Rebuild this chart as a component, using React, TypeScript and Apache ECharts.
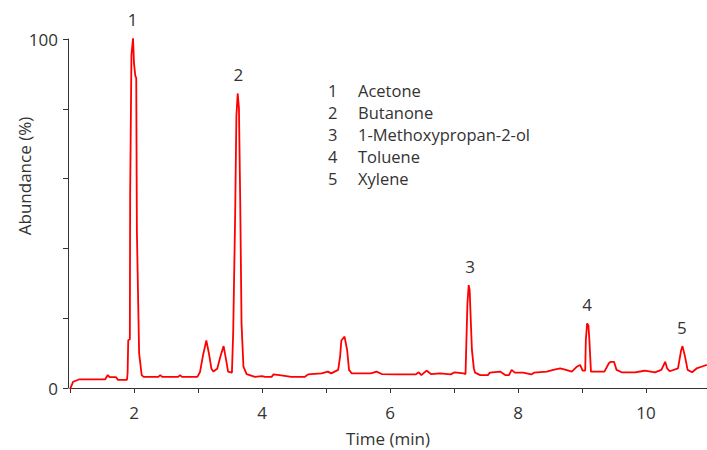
import React, { useEffect, useRef } from "react";
import * as echarts from "echarts";

const times: number[] = [
  1.0, 1.05, 1.15, 1.55, 1.59, 1.62, 1.72, 1.75, 1.89, 1.9, 1.91, 1.935, 1.94, 1.96, 1.985, 2.0, 2.02, 2.035,
  2.045, 2.08, 2.12, 2.15, 2.38, 2.41, 2.44, 2.69, 2.72, 2.75, 2.99, 3.03, 3.08, 3.13, 3.17, 3.21, 3.24, 3.3,
  3.35, 3.4, 3.44, 3.47, 3.53, 3.55, 3.58, 3.6, 3.62, 3.64, 3.66, 3.68, 3.71, 3.76, 3.89, 4.0, 4.05, 4.15,
  4.18, 4.3, 4.46, 4.67, 4.72, 4.93, 5.03, 5.08, 5.19, 5.22, 5.24, 5.29, 5.33, 5.36, 5.4, 5.7, 5.79, 5.87,
  6.08, 6.4, 6.45, 6.49, 6.57, 6.64, 6.78, 6.95, 7.01, 7.15, 7.18, 7.19, 7.21, 7.23, 7.245, 7.26, 7.28, 7.31,
  7.33, 7.41, 7.53, 7.56, 7.72, 7.8, 7.86, 7.9, 7.95, 8.08, 8.21, 8.25, 8.45, 8.55, 8.66, 8.75, 8.84, 8.92,
  8.97, 9.01, 9.05, 9.06, 9.08, 9.1, 9.115, 9.14, 9.35, 9.42, 9.45, 9.5, 9.54, 9.62, 9.83, 9.93, 9.98, 10.14,
  10.24, 10.3, 10.33, 10.37, 10.5, 10.55, 10.57, 10.61, 10.65, 10.72, 10.79, 10.9, 10.95,
];

const abundance: number[] = [
  -0.3, 1.8, 2.5, 2.5, 3.7, 3.1, 3.1, 2.3, 2.3, 4.3, 13.7, 14, 55.8, 95.4, 100.2, 93, 89.5, 88.8,
  45, 10, 3.7, 3.2, 3.2, 3.7, 3.2, 3.2, 3.7, 3.2, 3.2, 4.5, 9.5, 13.6, 10, 5.5, 4.7, 5.5,
  9, 12.0, 8, 4.7, 4.4, 16, 49, 78, 84.4, 80.1, 53, 18.6, 6.1, 4.0, 3.2, 3.4, 3.2, 3.2,
  3.9, 3.6, 3.2, 3.2, 3.9, 4.2, 4.7, 4.2, 5.2, 9, 13.6, 14.7, 10.9, 5.2, 4.2, 4.2, 4.7, 4.0,
  3.9, 3.9, 4.5, 3.7, 5.0, 4.0, 4.2, 3.9, 4.5, 4.2, 4.0, 10.9, 24.3, 29.5, 28, 20.4, 10.9, 5.6,
  4.4, 3.7, 3.7, 4.4, 4.7, 3.7, 3.7, 5.2, 4.4, 4.4, 3.9, 4.4, 4.7, 5.2, 5.6, 5.2, 4.7, 6.1,
  6.6, 5.0, 5.0, 13.8, 18.5, 18, 13.8, 4.7, 4.7, 7.1, 7.5, 7.5, 5.2, 4.5, 4.5, 4.8, 5.0, 4.5,
  5.2, 7.5, 5.6, 4.8, 5.6, 10.9, 12, 9, 5.2, 4.5, 5.6, 6.3, 6.6,
];

const peakNumbers: string[] = ["1", "2", "3", "4", "5"];
const peakTimes: number[] = [1.98, 3.63, 7.25, 9.08, 10.56];
const peakHeights: number[] = [100.2, 84.4, 29.5, 18.5, 12];
const compoundNames: string[] = ["Acetone", "Butanone", "1-Methoxypropan-2-ol", "Toluene", "Xylene"];

const FONT = "'Open Sans', 'DejaVu Sans', sans-serif";
const TEXT = "#333333";

export default function App() {
  const ref = useRef<HTMLDivElement>(null);

  useEffect(() => {
    document.body.style.margin = "0";
    if (!ref.current) return;
    const chart = echarts.init(ref.current, undefined, { renderer: "svg" });

    const lineData = times.map((t, i) => [t, abundance[i]]);
    const peakData = peakTimes.map((t, i) => ({ value: [t, peakHeights[i]], name: peakNumbers[i] }));

    const legendGraphics = compoundNames.map((name, i) => ({
      type: "group",
      left: 328,
      top: 82 + i * 22.1,
      children: [
        {
          type: "text",
          x: 0,
          y: 0,
          style: { text: peakNumbers[i], font: `16.5px ${FONT}`, fill: TEXT },
        },
        {
          type: "text",
          x: 30,
          y: 0,
          style: { text: name, font: `16.5px ${FONT}`, fill: TEXT },
        },
      ],
    }));

    chart.setOption({
      animation: false,
      backgroundColor: "#ffffff",
      grid: { left: 70, width: 640, top: 39, bottom: 62, containLabel: false, outerBoundsMode: "none" },
      xAxis: {
        type: "value",
        min: 1,
        max: 11,
        interval: 1,
        offset: 8,
        axisLine: { show: true, lineStyle: { color: TEXT, width: 1 } },
        axisTick: { show: true, length: 5, lineStyle: { color: TEXT } },
        splitLine: { show: false },
        axisLabel: {
          margin: 8,
          color: TEXT,
          fontSize: 17,
          fontFamily: FONT,
          formatter: (v: number) => (Math.round(v) % 2 === 0 ? String(v) : ""),
        },
      },
      yAxis: {
        type: "value",
        min: 0,
        max: 100,
        interval: 20,
        offset: 2,
        axisLine: { show: true, lineStyle: { color: TEXT, width: 1 } },
        axisTick: { show: true, length: 5, lineStyle: { color: TEXT } },
        splitLine: { show: false },
        axisLabel: {
          margin: 10,
          color: TEXT,
          fontSize: 17,
          fontFamily: FONT,
          formatter: (v: number) => (v === 0 || v === 100 ? String(v) : ""),
        },
      },
      graphic: [
        {
          type: "text",
          x: 24,
          y: 176,
          rotation: Math.PI / 2,
          style: {
            text: "Abundance (%)",
            font: `17px ${FONT}`,
            fill: TEXT,
            textAlign: "center",
            textVerticalAlign: "middle",
          },
        },
        {
          type: "text",
          x: 388,
          y: 438,
          style: {
            text: "Time (min)",
            font: `17px ${FONT}`,
            fill: TEXT,
            textAlign: "center",
            textVerticalAlign: "middle",
          },
        },
        ...legendGraphics,
      ],
      series: [
        {
          type: "line",
          data: lineData,
          showSymbol: false,
          clip: false,
          lineStyle: { color: "#ff0000", width: 1.8 },
          itemStyle: { color: "#ff0000" },
          z: 2,
        },
        {
          type: "scatter",
          data: peakData,
          symbolSize: 0,
          silent: true,
          clip: false,
          itemStyle: { opacity: 1, color: "rgba(0,0,0,0)" },
          label: {
            show: true,
            position: "top",
            distance: 10,
            formatter: (p: any) => p.name,
            color: TEXT,
            opacity: 1,
            fontSize: 17,
            fontFamily: FONT,
          },
          z: 3,
        },
      ],
    });

    return () => chart.dispose();
  }, []);

  return <div ref={ref} style={{ width: 707, height: 450 }} />;
}
